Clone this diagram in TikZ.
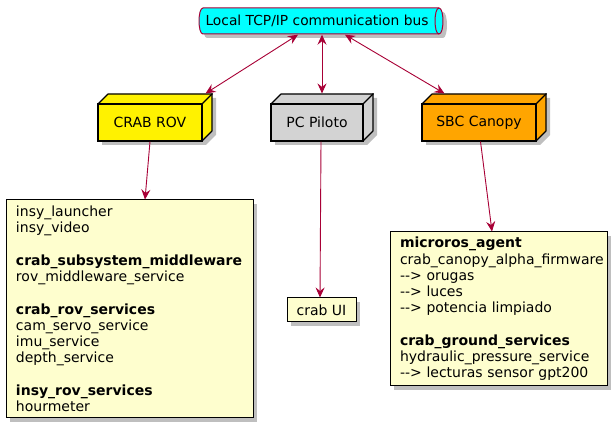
\documentclass[tikz,border=0pt]{standalone}
\usepackage{fontspec}
\setmainfont{DejaVu Sans}
\usetikzlibrary{arrows.meta,shadows}
\definecolor{bord}{HTML}{A80036}
\definecolor{notefill}{HTML}{FEFECE}
\definecolor{cyanb}{HTML}{00FFFF}
\definecolor{grayb}{HTML}{D3D3D3}
\definecolor{orangeb}{HTML}{FFA500}
\tikzset{
  shad/.style={drop shadow={shadow xshift=4pt,shadow yshift=-4pt,fill=black,opacity=0.25}},
  tip/.tip={Stealth[length=10pt,width=9pt,inset=3.5pt]},
  conn/.style={draw=bord, line width=0.9pt, -tip},
  conn2/.style={draw=bord, line width=0.9pt, tip-tip},
  front/.style={draw=black, line width=1.1pt, minimum height=37pt, inner sep=0pt, font=\fontsize{14}{16}\selectfont},
  face/.style={draw=black, line width=1.1pt, line join=round},
  note/.style={draw=black, fill=notefill, line width=1pt, shad, align=left, inner sep=0pt, font=\fontsize{14}{16.25}\selectfont},
}
\newcommand\boxthreed[5]{% name, x1, x2, color, label
  \filldraw[fill=#4, face, shad] (#2,104) -- (#2+10,94) -- (#3+10,94) -- (#3+10,131) -- (#3,141) -- (#2,141) -- cycle;
  \node[front, fill=#4, minimum width={#3-#2}] (#1) at ({(#2+#3)/2},122.5) {#5};
  \draw[face] (#1.north east) -- ++(10,-10);
}
\begin{document}
\begin{tikzpicture}[x=1pt,y=-1pt]
\useasboundingbox[fill=white] (0,0) rectangle (616,427);
% bus
\filldraw[fill=cyanb, draw=bord, line width=1pt, shad]
  (203,8) -- (439,8) .. controls (444.3,8) and (444.3,34) .. (439,34)
  -- (203,34) .. controls (197.7,34) and (197.7,8) .. (203,8) -- cycle;
\draw[draw=bord, line width=1pt] (439,8) .. controls (433.7,8) and (433.7,34) .. (439,34);
\node[inner sep=0pt, minimum width=236pt, minimum height=26pt, font=\fontsize{13.8}{16}\selectfont] (bus) at (317,21) {Local TCP/IP communication bus};
% boxes
\boxthreed{rov}{98}{202}{yellow}{CRAB ROV}
\boxthreed{pc}{271}{363}{grayb}{PC Piloto}
\boxthreed{sbc}{422}{536}{orangeb}{SBC Canopy}
% notes
\node[note, minimum width=247pt, minimum height=218pt, text width=227pt] (rovnote) at (129.5,309) {%
insy\_launcher\\
insy\_video\\[16.25pt]
\textbf{crab\_subsystem\_middleware}\\
rov\_middleware\_service\\[16.25pt]
\textbf{crab\_rov\_services}\\
cam\_servo\_service\\
imu\_service\\
depth\_service\\[16.25pt]
\textbf{insy\_rov\_services}\\
hourmeter};
\node[note, minimum width=69pt, minimum height=24pt, align=center] (ui) at (321.5,310) {crab UI};
\node[note, minimum width=217pt, minimum height=154pt, text width=197pt] (sbcnote) at (498.5,309) {%
\textbf{microros\_agent}\\
crab\_canopy\_alpha\_firmware\\
-{}-> orugas\\
-{}-> luces\\
-{}-> potencia limpiado\\[16.25pt]
\textbf{crab\_ground\_services}\\
hydraulic\_pressure\_service\\
-{}-> lecturas sensor gpt200};
% connectors
\draw[conn2] ([xshift=-19pt,yshift=-0.5pt]bus.south) -- ([xshift=3pt,yshift=10pt]rov.north east);
\draw[conn2] ([xshift=5pt,yshift=-0.5pt]bus.south) -- ([xshift=5pt,yshift=10pt]pc.north);
\draw[conn2] ([xshift=28pt,yshift=-0.5pt]bus.south) -- ([xshift=23pt,yshift=10pt]sbc.north west);
\draw[conn] ([xshift=0pt]rov.south) -- ([xshift=15.5pt]rovnote.north);
\draw[conn] ([xshift=4pt]pc.south) -- ([xshift=-1.5pt]ui.north);
\draw[conn] ([xshift=1.5pt]sbc.south) -- ([xshift=-6.5pt]sbcnote.north);
\end{tikzpicture}
\end{document}
